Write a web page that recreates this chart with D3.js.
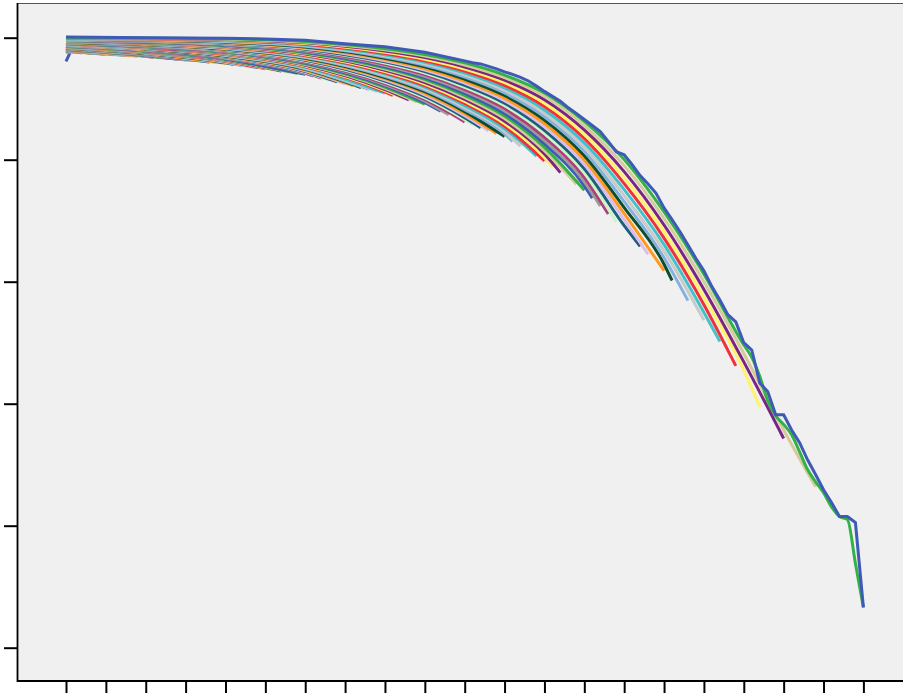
<!DOCTYPE html>
<html><head><meta charset="utf-8">
<script src="https://cdn.jsdelivr.net/npm/d3@7"></script>
<style>body{margin:0;background:#fff}svg{display:block}</style>
</head><body><svg id="c" width="903" height="693"></svg>
<script>
const palette = ["#3f5ab6","#9c9c9c","#b23c7a","#c9f5c9","#1c5e7c","#d9bdec","#ff9a1e","#0c4e2d",
                 "#84b2df","#c9c9c9","#43c1c9","#f0313b","#fff36a","#7a2583","#d5ca9a","#33b147"];
const xTicks = [0,5,10,15,20,25,30,35,40,45,50,55,60,65,70,75,80,85,90,95,100];
const yTicks = [0,20,40,60,80,100];
const gridX = [0,10,20,30,40,45,50,55,60,65,70,75,80,85,90];
const seriesEnd = [0.5,0.3,0.6,1,2,3,4,5,6,7,8,9,10,11,12,13,14,15,16,17,18,19,20,21,22,23,24,25,26,27,28,29,30,
  31,32,33,34,35,36,37,38,39,40,41,42,43,44,45,47,48,50,51,52,53,54,55,56,57,59,60,61,62,64,65,66,67,68,69,72,73,75,76,78,80,82,84,87,90,94];
const seriesValues = [
[96.1,97.5],[97.67,97.65],[97.70,97.66],[97.73,97.62],[97.76,97.54],[97.79,97.46],[97.82,97.38],[97.85,97.30],
[97.88,97.22],[97.91,97.14],[97.94,97.06],[97.96,96.98],[97.99,96.90],
[98.02,96.94,96.79],[98.05,96.99,96.68],[98.08,97.04,96.57],[98.11,97.08,96.46],[98.14,97.13,96.35],
[98.17,97.17,96.24],[98.20,97.22,96.13],[98.23,97.26,96.02],[98.26,97.31,95.91],[98.29,97.36,95.80],
[98.32,97.40,95.87,95.62],[98.35,97.45,95.94,95.44],[98.38,97.49,96.01,95.26],[98.41,97.54,96.08,95.08],
[98.44,97.58,96.15,94.90],[98.47,97.63,96.22,94.72],[98.50,97.67,96.29,94.54],[98.53,97.72,96.37,94.36],
[98.55,97.77,96.44,94.18],[98.58,97.81,96.51,94.00],
[98.61,97.86,96.58,94.11,93.69],[98.64,97.90,96.65,94.23,93.38],[98.67,97.95,96.72,94.34,93.07],
[98.70,97.99,96.79,94.46,92.76],[98.73,98.04,96.86,94.57,92.45],[98.76,98.08,96.93,94.69,92.14],
[98.79,98.13,97.00,94.80,91.83],[98.82,98.18,97.07,94.92,91.52],[98.85,98.22,97.14,95.03,91.21],
[98.88,98.27,97.21,95.15,90.90],
[98.91,98.31,97.28,95.26,91.11,90.54],[98.94,98.36,97.35,95.37,91.31,90.18],[98.97,98.40,97.43,95.49,91.51,89.82],
[99.00,98.45,97.50,95.60,91.70,89.46],[99.03,98.50,97.57,95.72,91.90,89.10],
[99.06,98.54,97.64,95.83,92.10,89.36,87.94],[99.09,98.59,97.71,95.95,92.29,89.61,87.36],
[99.12,98.63,97.78,96.06,92.49,89.87,86.20],
[99.14,98.68,97.85,96.18,92.69,90.12,86.54,85.72],[99.17,98.72,97.92,96.29,92.88,90.37,86.88,85.24],
[99.20,98.77,97.99,96.41,93.08,90.63,87.21,84.76],[99.23,98.81,98.06,96.52,93.28,90.88,87.54,84.28],
[99.26,98.86,98.13,96.64,93.48,91.14,87.88,83.80],
[99.29,98.91,98.20,96.75,93.67,91.39,88.21,84.22,83.00],[99.32,98.95,98.27,96.86,93.87,91.65,88.54,84.64,82.20],
[99.35,99.00,98.34,96.98,94.07,91.90,88.87,85.06,80.60],[99.38,99.04,98.42,97.09,94.26,92.16,89.21,85.48,79.80],
[99.41,99.09,98.49,97.21,94.46,92.41,89.54,85.90,80.36,78.84],[99.44,99.13,98.56,97.32,94.66,92.66,89.87,86.32,80.92,77.88],
[99.47,99.18,98.63,97.44,94.85,92.92,90.21,86.74,81.47,75.96],[99.50,99.22,98.70,97.55,95.05,93.17,90.54,87.16,82.03,75.00],
[99.53,99.27,98.77,97.67,95.25,93.43,90.87,87.58,82.59,75.70,73.70],
[99.56,99.32,98.84,97.78,95.45,93.68,91.21,88.00,83.15,76.41,72.40],
[99.59,99.36,98.91,97.90,95.64,93.94,91.54,88.42,83.70,77.12,71.10],
[99.62,99.41,98.98,98.01,95.84,94.19,91.87,88.84,84.26,77.82,69.80],
[99.65,99.45,99.05,98.12,96.04,94.45,92.20,89.26,84.82,78.53,69.19,65.80],
[99.68,99.50,99.12,98.24,96.23,94.70,92.54,89.68,85.37,79.23,70.18,64.50],
[99.71,99.54,99.19,98.35,96.43,94.96,92.87,90.10,85.93,79.94,71.16,61.80],
[99.73,99.59,99.26,98.47,96.63,95.21,93.20,90.52,86.49,80.65,72.14,62.87,60.20],
[99.76,99.64,99.33,98.58,96.82,95.46,93.54,90.94,87.04,81.35,73.13,63.94,56.90],
[99.79,99.68,99.41,98.70,97.02,95.72,93.87,91.36,87.60,82.06,74.11,65.01,53.70],
[99.82,99.73,99.48,98.81,97.22,95.97,94.20,91.78,88.16,82.76,75.10,66.08,54.96,50.20],
[99.85,99.77,99.55,98.93,97.42,96.23,94.54,92.20,88.72,83.47,76.08,67.15,56.22,46.20],
[99.88,99.82,99.62,99.04,97.61,96.48,94.87,92.62,89.27,84.18,77.06,68.22,57.47,45.47,39.50],
[99.91,99.86,99.69,99.16,97.81,96.74,95.20,93.04,89.83,84.88,78.05,69.29,58.73,46.85,34.30],
[99.94,99.91,99.76,99.27,98.01,96.99,95.53,93.46,90.39,85.59,79.03,70.36,59.99,48.23,35.70,26.40]
];
const greenX = [0,10,20,30,40,45,50,55,60,65,70,75,80,85,86,87,88,89,90,91,92,93,94,95,96,97,98,99,100];
const greenY = [99.97,99.95,99.83,99.39,98.20,97.25,95.87,93.88,90.94,86.29,80.02,71.43,61.24,49.62,
  47.6,44.5,40.5,38.0,36.6,34.9,32.1,29.2,27.2,25.4,23.1,21.5,21.0,13.8,6.6];
const blueX = [0,10,20,25,30,35,40,45,50,51,52,53,54,55,56,57,58,59,60,61,62,63,64,65,66,67,68,69,70,
  71,72,73,74,75,76,77,78,79,80,81,82,83,84,85,86,87,88,89,90,91,92,93,94,95,96,97,98,99,100];
const blueY = [100.1,100.0,99.9,99.8,99.6,99.0,98.5,97.6,
  96.2,95.9,95.7,95.3,94.9,94.4,94.0,93.5,92.9,92.1,91.2,90.4,89.6,88.5,87.6,86.6,85.6,84.6,83.0,81.3,80.8,
  79.2,77.4,76.0,74.5,72.1,70.2,68.2,66.0,63.8,61.8,59.2,57.0,54.6,53.4,50.0,48.8,43.4,42.0,38.2,38.2,
  35.7,33.6,30.8,28.4,25.9,23.8,21.5,21.5,20.5,6.6];

const svg = d3.select("#c");
const x = d3.scaleLinear().domain([0,100]).range([66,863.4]);
const y = d3.scaleLinear().domain([0,100]).range([647.7,37.7]);

svg.append("rect").attr("x",18).attr("y",4).attr("width",890).attr("height",677).attr("fill","#f0f0f0");
svg.append("line").attr("x1",18).attr("x2",903).attr("y1",3.5).attr("y2",3.5).attr("stroke","#555").attr("stroke-width",1.2);

const series = seriesValues.map((vals,i)=>{
  const xs = gridX.filter(g=>g<seriesEnd[i]);
  const pts = xs.map((g,j)=>[g,vals[j]]);
  pts.push([seriesEnd[i], vals[vals.length-1]]);
  return {pts, color: palette[i%16], curve: d3.curveMonotoneX};
});
series.push({pts: greenX.map((g,j)=>[g,greenY[j]]), color: palette[79%16], curve: d3.curveMonotoneX});
series.push({pts: blueX.map((g,j)=>[g,blueY[j]]), color: palette[80%16], curve: d3.curveLinear});

const g = svg.append("g");
series.forEach(s=>{
  g.append("path").attr("d", d3.line().x(d=>x(d[0])).y(d=>y(d[1])).curve(s.curve)(s.pts))
   .attr("fill","none").attr("stroke",s.color).attr("stroke-width",3).attr("stroke-linejoin","miter");
});

const ax = svg.append("g").attr("transform","translate(18,0)")
  .call(d3.axisLeft(y).tickValues(yTicks).tickSize(14).tickSizeOuter(0).tickFormat(""));
ax.select(".domain").remove();
ax.selectAll(".tick line").attr("stroke","#000").attr("stroke-width",2);
const bx = svg.append("g").attr("transform","translate(0,681)")
  .call(d3.axisBottom(x).tickValues(xTicks).tickSize(12).tickSizeOuter(0).tickFormat(""));
bx.select(".domain").remove();
bx.selectAll(".tick line").attr("stroke","#000").attr("stroke-width",2);
svg.append("line").attr("x1",17.5).attr("x2",17.5).attr("y1",3).attr("y2",682).attr("stroke","#000").attr("stroke-width",1.8);
svg.append("line").attr("x1",17).attr("x2",903).attr("y1",681).attr("y2",681).attr("stroke","#000").attr("stroke-width",1.8);
</script></body></html>
